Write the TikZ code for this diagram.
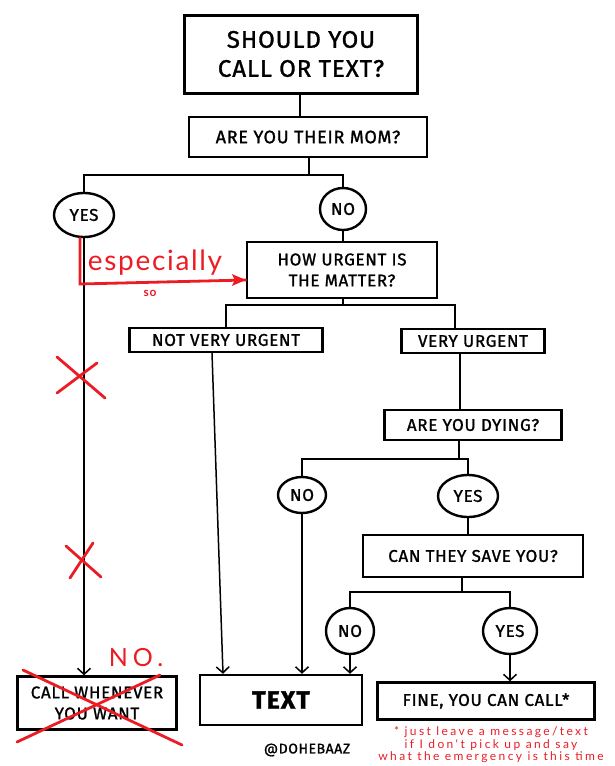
\documentclass[tikz,border=0pt]{standalone}
\usepackage{fontspec}
\setmainfont{Fira Sans}[LetterSpace=4, FakeBold=1.3]
\newfontfamily\handfont{Lato}[LetterSpace=6]
\newfontfamily\notefont{Lato}[LetterSpace=20]
\usetikzlibrary{shapes.geometric,arrows.meta}
\definecolor{redpen}{RGB}{235,28,36}
\begin{document}
\begin{tikzpicture}[x=1pt, y=-1pt,
  ctbox/.style = {draw, line width=2.4pt, inner sep=0pt, align=center,
    font=\fontsize{17}{21}\selectfont},
  ctans/.style = {draw, ellipse, line width=2.4pt, inner sep=0pt,
    font=\fontsize{17}{20}\selectfont},
  ctline/.style = {line width=1.5pt},
  ctarrow/.style = {ctline, -{Straight Barb[length=6pt, width=13pt]}},
  ctmark/.style = {draw=redpen, line width=2.8pt, line cap=round},
  ctnote/.style = {text=redpen, font=\handfont, inner sep=0pt, align=center}
]
  \useasboundingbox (0,0) rectangle (614,766);
  % question boxes
  \node[ctbox, line width=3pt, minimum width=233, minimum height=78,
    font=\fontsize{24}{29}\selectfont] (title) at (301,54) {SHOULD YOU\\CALL OR TEXT?};
  \node[ctbox, minimum width=238, minimum height=40,
    font=\fontsize{18}{21}\selectfont] (mom) at (308,137) {ARE YOU THEIR MOM?};
  \node[ctbox, minimum width=190, minimum height=56] (urgent) at (342,270)
    {HOW URGENT IS\\THE MATTER?};
  \node[ctbox, minimum width=193, minimum height=24] (notvery) at (226,340) {NOT VERY URGENT};
  \node[ctbox, minimum width=143, minimum height=24] (very) at (473,341) {VERY URGENT};
  \node[ctbox, minimum width=177, minimum height=30] (dying) at (473,425) {ARE YOU DYING?};
  \node[ctbox, minimum width=220, minimum height=42] (save) at (473,556) {CAN THEY SAVE YOU?};
  % answers
  \node[ctans, minimum width=60, minimum height=44] (yes1) at (84,215) {YES};
  \node[ctans, minimum width=46, minimum height=42] (no1) at (343,209) {NO};
  \node[ctans, minimum width=48, minimum height=36] (no2) at (302,495) {NO};
  \node[ctans, minimum width=60, minimum height=42] (yes2) at (468,496) {YES};
  \node[ctans, minimum width=48, minimum height=46] (no3) at (350,631) {NO};
  \node[ctans, minimum width=54, minimum height=46] (yes3) at (510,631) {YES};
  % outcomes
  \node[ctbox, minimum width=159, minimum height=53] (call) at (97,703)
    {CALL WHENEVER\\YOU WANT};
  \node[ctbox, minimum width=162, minimum height=50,
    font=\bfseries\fontsize{25}{30}\selectfont] (text) at (281,700) {TEXT};
  \node[ctbox, minimum width=217, minimum height=37] (fine) at (486,701)
    {FINE, YOU CAN CALL*};
  \node[font=\fontsize{14}{16}\selectfont] (tag) at (307,750) {@DOHEBAAZ};
  % junctions
  \coordinate (j1) at (309,175);
  \coordinate (j2) at (343,305);
  \coordinate (j3) at (459,459);
  \coordinate (j4) at (462,592);
  \coordinate (bend) at (80,284);
  % connectors
  \draw[ctline] (title.south -| 300,0) -- (mom.north -| 300,0);
  \draw[ctline] (mom.south -| j1) -- (j1);
  \draw[ctline] (yes1.north) |- (j1) -| (no1.north);
  \draw[ctline] (no1.south) -- (no1.south |- urgent.north);
  \draw[ctline] (urgent.south -| j2) -- (j2);
  \draw[ctline] (notvery.north) |- (j2) -| ([xshift=-18pt]very.north);
  \draw[ctline] ([xshift=-13pt]very.south) -- ([xshift=-13pt]dying.north);
  \draw[ctline] (dying.south -| j3) -- (j3);
  \draw[ctline] (no2.north) |- (j3) -| (yes2.north);
  \draw[ctline] (yes2.south) -- (yes2.south |- save.north);
  \draw[ctline] (save.south -| j4) -- (j4);
  \draw[ctline] (no3.north) |- (j4) -| (yes3.north);
  \draw[ctarrow] (yes1.south) -- (yes1.south |- call.north);
  \draw[ctarrow] ([xshift=-14pt]notvery.south) -- ([xshift=-58pt]text.north);
  \draw[ctarrow] (no2.south) -- (no2.south |- text.north);
  \draw[ctarrow] (no3.south) -- (no3.south |- text.north);
  \draw[ctarrow] (yes3.south) -- (yes3.south |- fine.north);
  % red pen notes
  \draw[ctmark] ([xshift=-4pt]yes1.south) -- (bend) -- ([yshift=-10pt]urgent.west);
  \fill[redpen] ([yshift=-10pt]urgent.west) -- ++(-14,-6) -- ++(3,6) -- ++(-3,6) -- cycle;
  \node[ctnote, font=\handfont\fontsize{28}{30}\selectfont] (esp) at (155,263) {especially};
  \node[ctnote, font=\handfont\bfseries\fontsize{12}{13}\selectfont] (so) at (150,293) {so};
  \draw[ctmark] (57,357) -- (105,398);
  \draw[ctmark] (57,393) -- (97,363);
  \draw[ctmark] (66,546) -- (101,577);
  \draw[ctmark] (70,578) -- (93,543);
  \draw[ctmark] (23,670) -- (182,745);
  \draw[ctmark] (17,742) -- (160,675);
  \node[ctnote, font=\notefont\fontsize{25}{28}\selectfont] (nope) at (136,658) {NO.};
  \node[ctnote, font=\notefont\fontsize{12}{12.5}\selectfont] (note) at (491,745)
    {* just leave a message/text\\if I don't pick up and say\\what the emergency is this time};
\end{tikzpicture}
\end{document}
